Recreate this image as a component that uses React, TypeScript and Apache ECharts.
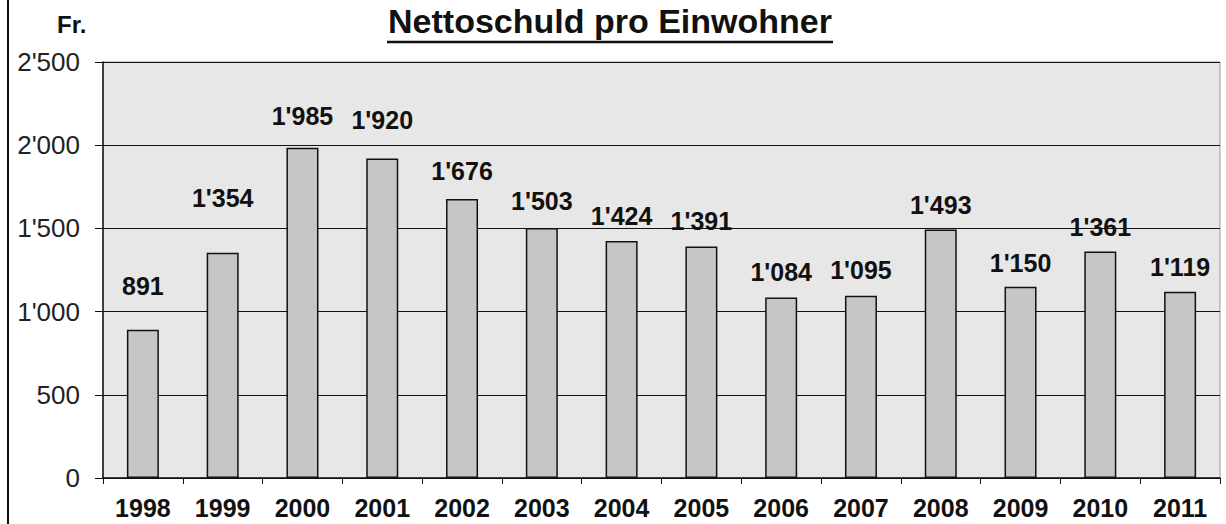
import React, { useEffect, useRef } from "react";
import * as echarts from "echarts";

const years = ["1998", "1999", "2000", "2001", "2002", "2003", "2004", "2005", "2006", "2007", "2008", "2009", "2010", "2011"];
const debtPerCapita = [891, 1354, 1985, 1920, 1676, 1503, 1424, 1391, 1084, 1095, 1493, 1150, 1361, 1119];
const yTicks = { min: 0, max: 2500, interval: 500 };
const titleText = "Nettoschuld pro Einwohner";
const unitText = "Fr.";

const fmt = (v: number) => String(v).replace(/\B(?=(\d{3})+(?!\d))/g, "'");

export default function App() {
  const ref = useRef<HTMLDivElement>(null);
  useEffect(() => {
    if (!ref.current) return;
    const chart = echarts.init(ref.current, null, { renderer: "svg" });
    const font = "Arial, 'Liberation Sans', Helvetica, sans-serif";
    // label gaps above the bars, as placed in the original
    const labelGap = [31, 42, 19, 26, 16, 14, 13, 13, 13, 13, 12, 11, 12, 12];
    chart.setOption({
      animation: false,
      backgroundColor: "#ffffff",
      graphic: [
        {
          type: "text",
          x: 610,
          y: 21,
          style: {
            text: titleText,
            align: "center",
            verticalAlign: "middle",
            fontFamily: font,
            fontSize: 34,
            fontWeight: "bold",
            fill: "#111",
          },
        },
        { type: "line", shape: { x1: 387, y1: 42, x2: 833, y2: 42 }, style: { stroke: "#111", lineWidth: 2.5 } },
        { type: "line", shape: { x1: 8, y1: 0, x2: 8, y2: 524 }, style: { stroke: "#111", lineWidth: 2 } },
        {
          type: "text",
          x: 57,
          y: 24,
          style: { text: unitText, verticalAlign: "middle", fontFamily: font, fontSize: 24, fontWeight: "bold", fill: "#111" },
        },
      ],
      grid: {
        left: 103,
        right: 6,
        top: 62,
        bottom: 46,
        show: true,
        backgroundColor: "#e7e7e7",
        borderColor: "#9a9a9a",
        borderWidth: 1,
      },
      xAxis: {
        type: "category",
        data: years,
        boundaryGap: true,
        axisLine: { show: true, lineStyle: { color: "#111", width: 1.5 } },
        axisTick: { show: true, alignWithLabel: false, length: 6, lineStyle: { color: "#111" } },
        axisLabel: { fontFamily: font, fontSize: 25, fontWeight: "bold", color: "#111", margin: 17, interval: 0 },
      },
      yAxis: {
        type: "value",
        min: yTicks.min,
        max: yTicks.max,
        interval: yTicks.interval,
        axisLine: { show: true, lineStyle: { color: "#111", width: 1.5 } },
        axisTick: { show: true, length: 8, lineStyle: { color: "#111" } },
        axisLabel: { fontFamily: font, fontSize: 26, color: "#222", margin: 23, formatter: (v: number) => fmt(v) },
        splitLine: { show: true, lineStyle: { color: "#111", width: 1 } },
      },
      series: [
        {
          type: "bar",
          data: debtPerCapita.map((v, i) => ({ value: v, label: { distance: labelGap[i] } })),
          barWidth: 32,
          itemStyle: { color: "#c6c6c6", borderColor: "#111", borderWidth: 1.5 },
          label: {
            show: true,
            position: "top",
            distance: 12,
            fontFamily: font,
            fontSize: 25,
            fontWeight: "bold",
            color: "#111",
            formatter: (p: any) => fmt(p.value),
          },
        },
      ],
    });
    return () => chart.dispose();
  }, []);
  return <div ref={ref} style={{ position: "absolute", left: 0, top: 0, width: 1226, height: 524 }} />;
}
